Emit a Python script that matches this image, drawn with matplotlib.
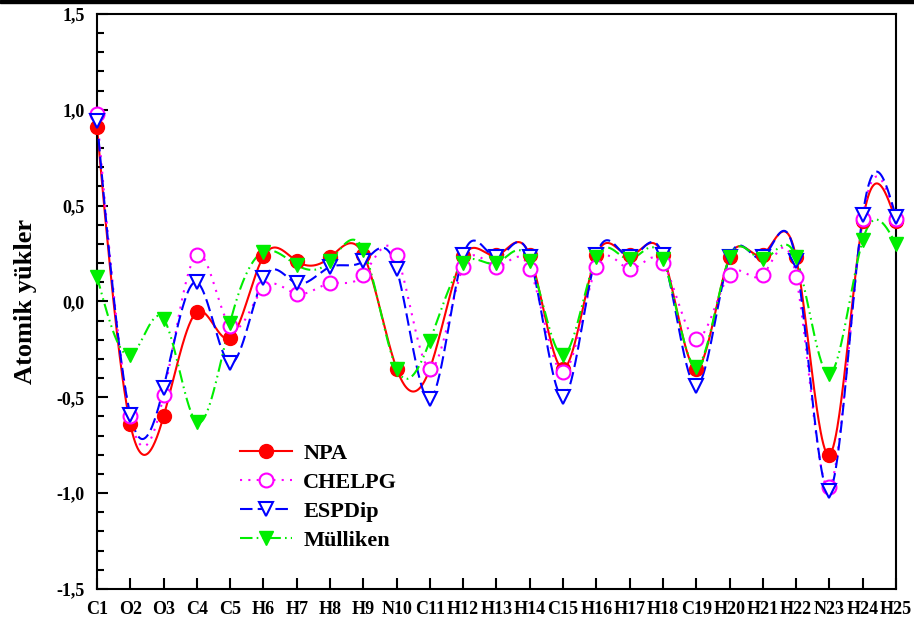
import numpy as np
import matplotlib
matplotlib.use("Agg")
import matplotlib.pyplot as plt
from matplotlib.lines import Line2D
from matplotlib.patches import Rectangle
from matplotlib.ticker import MultipleLocator, FuncFormatter

plt.rcParams['font.family'] = ['Liberation Serif', 'DejaVu Serif']
plt.rcParams['font.weight'] = 'bold'

atoms = ["C1", "O2", "O3", "C4", "C5", "H6", "H7", "H8", "H9", "N10", "C11", "H12",
         "H13", "H14", "C15", "H16", "H17", "H18", "C19", "H20", "H21", "H22", "N23",
         "H24", "H25"]

npa = [0.91, -0.64, -0.60, -0.055, -0.19, 0.235, 0.21, 0.23, 0.245, -0.35, -0.35, 0.235,
       0.24, 0.24, -0.35, 0.24, 0.24, 0.24, -0.35, 0.23, 0.245, 0.23, -0.80, 0.42, 0.42]
chelpg = [0.98, -0.60, -0.49, 0.245, -0.13, 0.07, 0.04, 0.095, 0.14, 0.24, -0.35, 0.18,
          0.18, 0.17, -0.37, 0.18, 0.17, 0.20, -0.195, 0.14, 0.14, 0.13, -0.97, 0.43, 0.43]
espdip = [0.94, -0.59, -0.45, 0.10, -0.32, 0.12, 0.095, 0.18, 0.21, 0.17, -0.51, 0.24,
          0.23, 0.23, -0.50, 0.24, 0.23, 0.24, -0.44, 0.23, 0.23, 0.21, -0.99, 0.45, 0.44]
mulliken = [0.13, -0.28, -0.09, -0.63, -0.11, 0.26, 0.19, 0.21, 0.27, -0.35, -0.205, 0.20,
            0.20, 0.21, -0.28, 0.23, 0.22, 0.22, -0.34, 0.23, 0.22, 0.23, -0.38, 0.32, 0.30]


def natural_spline(y, num=1200):
    # natural cubic spline through equally spaced points
    y = np.asarray(y, float)
    n = len(y)
    A = np.zeros((n, n))
    b = np.zeros(n)
    A[0, 0] = A[-1, -1] = 1
    for i in range(1, n - 1):
        A[i, i - 1:i + 2] = [1, 4, 1]
        b[i] = 6 * (y[i + 1] - 2 * y[i] + y[i - 1])
    m = np.linalg.solve(A, b)
    xs = np.linspace(0, n - 1, num)
    i = np.clip(np.floor(xs).astype(int), 0, n - 2)
    t = xs - i
    ys = ((1 - t) * y[i] + t * y[i + 1]
          + ((1 - t) ** 3 - (1 - t)) * m[i] / 6 + (t ** 3 - t) * m[i + 1] / 6)
    return xs, ys


series = [
    ("NPA", npa, dict(color="#ff0000", ls="-"), dict(marker="o", mfc="#ff0000", mec="#ff0000", ms=10)),
    ("CHELPG", chelpg, dict(color="#ff00ff", ls=(0, (1, 3))), dict(marker="o", mfc="white", mec="#ff00ff", ms=10, mew=1.5)),
    ("ESPDip", espdip, dict(color="#0000ff", ls=(0, (6, 2.5))), dict(marker="v", mfc="white", mec="#0000ff", ms=10, mew=1.5)),
    ("Mülliken", mulliken, dict(color="#00ee00", ls=(0, (6, 2, 0.8, 2, 0.8, 2))), dict(marker="v", mfc="#00ee00", mec="#00ee00", ms=10)),
]

fig = plt.figure(figsize=(9.14, 6.19), dpi=100)
ax = fig.add_axes([0.1061, 0.0485, 0.8742, 0.9289])

x = np.arange(len(atoms))
handles = []
for k, (name, vals, lstyle, mstyle) in enumerate(series):
    xs, ys = natural_spline(vals)
    ax.plot(xs, ys, lw=1.5, zorder=2 + k, **lstyle)
    ax.plot(x, vals, ls="none", zorder=6 + k, clip_on=False, **mstyle)
    handles.append(Line2D([], [], lw=1.5, **lstyle, **mstyle))

ax.set_xlim(0, len(atoms) - 1)
ax.set_ylim(-1.5, 1.5)
ax.set_xticks(x)
ax.set_xticklabels(atoms)
ax.yaxis.set_major_locator(MultipleLocator(0.5))
ax.yaxis.set_minor_locator(MultipleLocator(0.1))
ax.yaxis.set_major_formatter(FuncFormatter(lambda v, p: f"{v:.1f}".replace(".", ",")))
ax.tick_params(axis="both", direction="in", labelsize=13, width=1.5)
ax.tick_params(axis="y", which="major", length=8, pad=9)
ax.tick_params(axis="y", which="minor", length=5, width=1.5, direction="in")
ax.tick_params(axis="x", length=8, pad=9)
for lab in ax.get_xticklabels() + ax.get_yticklabels():
    lab.set_fontweight("bold")
for sp in ax.spines.values():
    sp.set_linewidth(1.5)

ax.set_ylabel("Atomik yükler", fontsize=19, fontweight="bold", labelpad=14)

ax.legend(handles, [s[0] for s in series], loc="upper left", bbox_to_anchor=(0.179, 0.253),
          frameon=False, prop=dict(size=16, weight="bold"), handlelength=2.35,
          handletextpad=0.5, labelspacing=0.38, borderpad=0, borderaxespad=0)

fig.add_artist(Rectangle((0, 0.995), 1, 0.005, transform=fig.transFigure, color="black"))

fig.savefig("out.png", dpi=100)
